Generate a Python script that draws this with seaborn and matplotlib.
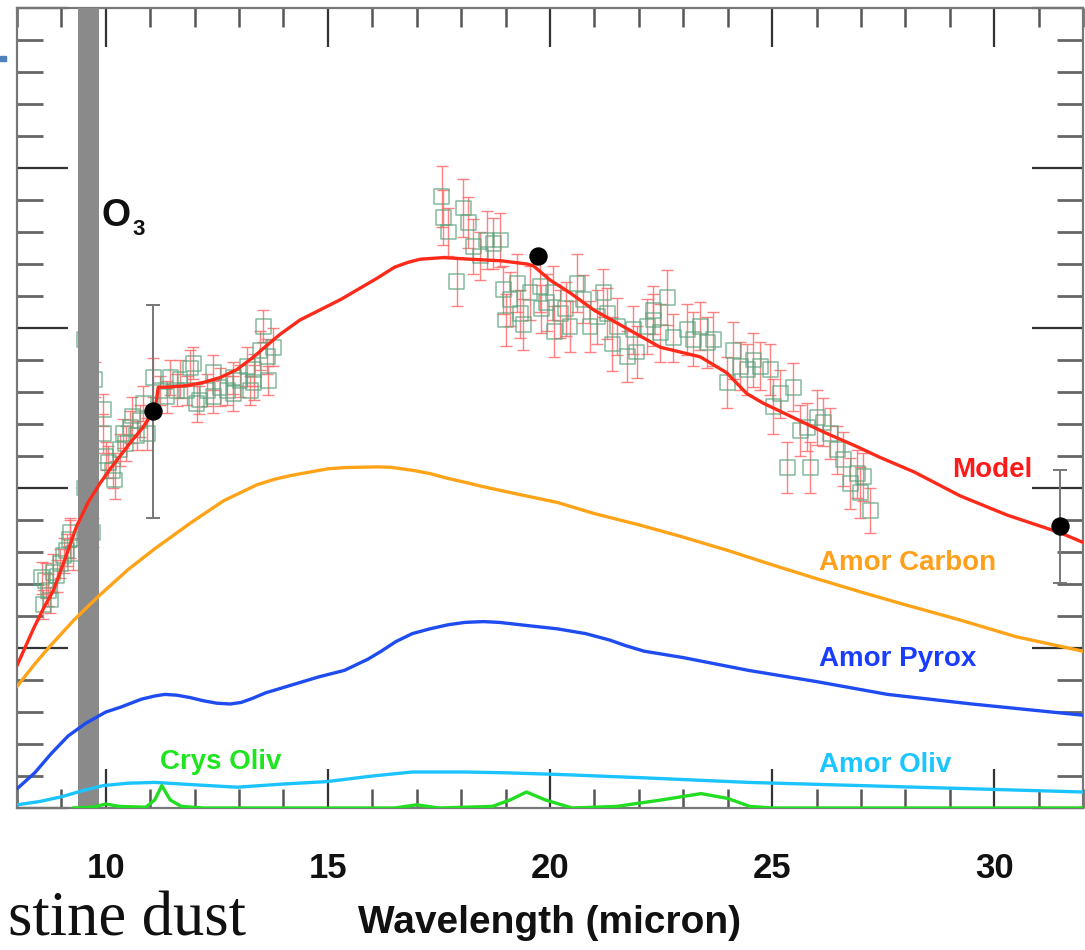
import numpy as np
import pandas as pd
import matplotlib
matplotlib.use("Agg")
import matplotlib.pyplot as plt
import seaborn as sns
from matplotlib.ticker import MultipleLocator
from matplotlib.patches import Rectangle

# ---------------- data ----------------
XTICKS = [10, 15, 20, 25, 30]
XTICK_LABELS = ["10", "15", "20", "25", "30"]
X_LABEL = "Wavelength (micron)"

model_wl = [8.0, 8.37, 8.6, 8.82, 9.1, 9.34, 9.6, 9.87, 10.1, 10.32, 10.6, 10.84, 11.0, 11.11,
            11.18, 11.4, 11.82, 12.2, 12.57, 12.95, 13.33, 13.62, 13.92, 14.37, 14.8, 15.3,
            15.73, 16.1, 16.5, 16.8, 17.08, 17.6, 18.2, 18.9, 19.48, 19.62, 20.0, 20.45, 21.0,
            21.58, 22.03, 22.48, 22.78, 23.38, 23.98, 24.43, 24.8, 25.18, 25.7, 26.24, 26.9,
            27.44, 28.2, 29.24, 30.3, 31.49, 32.0]
model_flux = [0.89, 1.12, 1.25, 1.36, 1.57, 1.76, 1.91, 2.03, 2.12, 2.20, 2.30, 2.38, 2.45, 2.49,
              2.63, 2.63, 2.64, 2.66, 2.69, 2.74, 2.82, 2.89, 2.96, 3.05, 3.11, 3.18,
              3.25, 3.31, 3.38, 3.41, 3.43, 3.44, 3.43, 3.42, 3.40, 3.39, 3.30, 3.22, 3.11,
              3.02, 2.95, 2.88, 2.86, 2.82, 2.72, 2.59, 2.53, 2.48, 2.41, 2.34, 2.26,
              2.19, 2.10, 1.95, 1.83, 1.72, 1.66]

carbon_wl = [8.0, 8.4, 8.77, 9.3, 9.86, 10.5, 11.1, 11.9, 12.65, 13.4, 13.8, 14.2, 14.6, 15.0,
             15.4, 15.75, 16.1, 16.4, 16.92, 17.3, 17.7, 18.1, 18.47, 19.3, 20.16, 21.0, 22.0,
             22.91, 24.0, 25.0, 26.04, 27.0, 28.0, 29.17, 30.5, 32.0]
carbon_flux = [0.76, 0.90, 1.02, 1.18, 1.33, 1.49, 1.62, 1.78, 1.92, 2.02, 2.055, 2.08, 2.10,
               2.12, 2.128, 2.13, 2.132, 2.13, 2.11, 2.09, 2.06, 2.035, 2.01, 1.96, 1.91, 1.84,
               1.77, 1.70, 1.61, 1.52, 1.43, 1.35, 1.27, 1.18, 1.07, 0.98]

pyrox_wl = [8.0, 8.4, 8.77, 9.15, 9.55, 10.0, 10.33, 10.8, 11.1, 11.33, 11.6, 11.9, 12.2, 12.5,
            12.8, 13.05, 13.3, 13.6, 14.2, 14.8, 15.37, 15.9, 16.2, 16.53, 16.9, 17.3, 17.7,
            18.08, 18.5, 18.86, 19.5, 20.16, 20.8, 21.34, 21.7, 22.12, 23.0, 24.47, 26.0, 27.6,
            29.5, 32.0]
pyrox_flux = [0.12, 0.22, 0.34, 0.45, 0.53, 0.60, 0.63, 0.68, 0.70, 0.71, 0.705, 0.69, 0.67,
              0.655, 0.65, 0.66, 0.685, 0.72, 0.77, 0.82, 0.86, 0.93, 0.98, 1.04, 1.09, 1.12,
              1.145, 1.16, 1.165, 1.16, 1.14, 1.12, 1.09, 1.05, 1.015, 0.98, 0.94, 0.86, 0.79,
              0.71, 0.65, 0.58]

aoliv_wl = [8.0, 8.5, 9.0, 9.5, 9.94, 10.5, 11.1, 12.0, 12.96, 14.0, 14.98, 16.0, 16.9, 18.08,
            19.0, 20.16, 22.0, 24.47, 27.0, 29.5, 32.0]
aoliv_flux = [0.02, 0.04, 0.07, 0.11, 0.14, 0.155, 0.16, 0.145, 0.13, 0.15, 0.165, 0.20, 0.225,
              0.225, 0.22, 0.21, 0.19, 0.16, 0.14, 0.12, 0.10]

coliv_wl = [9.25, 9.7, 10.0, 10.3, 10.9, 11.1, 11.26, 11.45, 11.7, 12.2, 16.5, 17.0, 17.5, 18.7,
            19.1, 19.47, 19.9, 20.5, 21.5, 22.5, 23.4, 24.0, 24.5, 25.0, 32.0]
coliv_flux = [0.0, 0.005, 0.025, 0.01, 0.005, 0.05, 0.14, 0.05, 0.01, 0.0, 0.0, 0.02, 0.0, 0.01,
              0.05, 0.10, 0.05, 0.0, 0.01, 0.05, 0.09, 0.06, 0.01, 0.0, 0.0]

# observed spectrum (short wavelength segment)
obs1_wl = [8.56, 8.59, 8.65, 8.70, 8.75, 8.81, 8.90, 8.97, 9.05, 9.12, 9.19, 9.20, 9.26, 9.51,
           9.51, 9.70, 9.75, 9.94, 9.94, 10.00, 10.05, 10.16, 10.20, 10.32, 10.39, 10.45, 10.55,
           10.60, 10.70, 10.77, 10.84, 10.93, 11.07, 11.22, 11.37, 11.45, 11.60, 11.67, 11.82,
           11.90, 11.97, 12.05, 12.10, 12.28, 12.42, 12.42, 12.57, 12.73, 12.87, 12.87, 13.02,
           13.18, 13.25, 13.33, 13.33, 13.47, 13.54, 13.63, 13.66, 13.77]
obs1_flux = [1.44, 1.27, 1.42, 1.36, 1.30, 1.47, 1.45, 1.53, 1.58, 1.61, 1.68, 1.72, 1.59, 2.00,
             2.93, 1.72, 2.68, 2.49, 2.34, 2.20, 2.16, 2.11, 2.05, 2.24, 2.34, 2.28, 2.38,
             2.45, 2.33, 2.42, 2.53, 2.34, 2.69, 2.61, 2.57, 2.69, 2.61, 2.68, 2.61,
             2.75, 2.78, 2.53, 2.55, 2.61, 2.72, 2.57, 2.63, 2.61, 2.69, 2.59, 2.67,
             2.76, 2.61, 2.74, 2.66, 2.86, 3.01, 2.82, 2.67, 2.88]
obs1_err = [0.10, 0.09, 0.11, 0.10, 0.08, 0.12, 0.10, 0.09, 0.11, 0.10, 0.12, 0.09, 0.10, 0.12,
            0.10, 0.09, 0.11, 0.10, 0.12, 0.09, 0.10, 0.11, 0.12, 0.10, 0.09, 0.11, 0.10,
            0.12, 0.09, 0.10, 0.11, 0.10, 0.12, 0.09, 0.10, 0.11, 0.10, 0.12, 0.09,
            0.11, 0.10, 0.12, 0.09, 0.10, 0.11, 0.10, 0.12, 0.09, 0.10, 0.11, 0.10,
            0.12, 0.09, 0.10, 0.11, 0.12, 0.10, 0.11, 0.09, 0.12]

# observed spectrum (long wavelength segment)
obs2_wl = [17.56, 17.60, 17.71, 17.90, 18.05, 18.16, 18.27, 18.43, 18.58, 18.72, 18.88, 18.95,
           19.00, 19.10, 19.26, 19.33, 19.40, 19.55, 19.78, 19.80, 19.93, 20.07, 20.10, 20.23,
           20.35, 20.45, 20.61, 20.75, 20.90, 21.06, 21.20, 21.29, 21.40, 21.51, 21.74, 21.87,
           21.95, 22.19, 22.33, 22.33, 22.48, 22.64, 22.78, 23.09, 23.23, 23.38, 23.54, 23.68,
           23.99, 24.13, 24.28, 24.44, 24.58, 24.73, 24.96, 25.03, 25.18, 25.34, 25.48, 25.63,
           25.79, 25.86, 26.02, 26.15, 26.31, 26.47, 26.60, 26.76, 26.92, 26.99, 27.05, 27.21]
obs2_flux = [3.82, 3.69, 3.60, 3.29, 3.75, 3.66, 3.51, 3.45, 3.55, 3.53, 3.55, 3.24,
             3.05, 3.18, 3.28, 3.09, 3.02, 3.22, 3.26, 3.12, 3.16, 3.22, 2.98, 3.09,
             3.12, 3.01, 3.28, 3.18, 3.01, 3.07, 3.22, 3.09, 2.90, 3.01, 2.82, 2.99,
             2.85, 3.01, 3.11, 3.05, 2.97, 3.19, 2.94, 2.99, 2.93, 3.01, 2.91, 2.93,
             2.66, 2.86, 2.76, 2.74, 2.80, 2.76, 2.74, 2.51, 2.59, 2.13, 2.63, 2.36,
             2.38, 2.13, 2.44, 2.41, 2.34, 2.24, 2.18, 2.03, 2.09, 1.97, 2.07, 1.86]
obs2_err = [0.19, 0.17, 0.15, 0.15, 0.18, 0.16, 0.17, 0.15, 0.18, 0.16, 0.17, 0.15,
            0.16, 0.17, 0.18, 0.15, 0.16, 0.17, 0.16, 0.15, 0.18, 0.17, 0.16, 0.15,
            0.17, 0.16, 0.18, 0.15, 0.16, 0.17, 0.15, 0.16, 0.17, 0.18, 0.16, 0.15,
            0.16, 0.17, 0.15, 0.16, 0.18, 0.17, 0.15, 0.16, 0.17, 0.15, 0.16, 0.17,
            0.16, 0.18, 0.15, 0.16, 0.17, 0.15, 0.16, 0.17, 0.15, 0.16, 0.15, 0.16,
            0.15, 0.16, 0.17, 0.15, 0.16, 0.15, 0.17, 0.16, 0.15, 0.16, 0.15, 0.14]

# photometric points
phot_wl = [11.06, 19.73, 31.49]
phot_flux = [2.48, 3.45, 1.76]
phot_err = [0.665, 0.0, 0.355]

O3_BAND = [9.374, 9.847]

curve_labels = ["Model", "Amor Carbon", "Amor Pyrox", "Amor Oliv", "Crys Oliv"]

# ---------------- style ----------------
sns.set_style("ticks")
plt.rcParams["font.family"] = ["Liberation Sans", "DejaVu Sans"]

C_MODEL = "#ff2a1a"
C_CARBON = "#ffa319"
C_PYROX = "#1f4cf0"
C_AOLIV = "#1cc4ff"
C_COLIV = "#22dd22"

fig = plt.figure(figsize=(10.85, 9.5), dpi=100)
ax = fig.add_axes([17 / 1085, 142 / 950, (1083 - 17) / 1085, (808 - 8) / 950])

obs = pd.DataFrame({"wl": obs1_wl + obs2_wl,
                    "flux": obs1_flux + obs2_flux,
                    "err": obs1_err + obs2_err})

# error bars of the spectrum
ax.errorbar(obs["wl"], obs["flux"], yerr=obs["err"], fmt="none", ecolor="#ff6b6b",
            elinewidth=1.0, capsize=4.5, capthick=1.0, alpha=0.85, zorder=2)
sns.scatterplot(data=obs, x="wl", y="flux", marker="s", s=115, facecolor="none",
                edgecolor="#5aa37c", linewidth=1.1, alpha=0.75, ax=ax, zorder=2.5,
                legend=False)

# O3 band
ax.axvspan(O3_BAND[0], O3_BAND[1], color="#8a8a8a", lw=0, zorder=3)

# model curves
for wl, fl, col in [(model_wl, model_flux, C_MODEL), (carbon_wl, carbon_flux, C_CARBON),
                    (pyrox_wl, pyrox_flux, C_PYROX), (aoliv_wl, aoliv_flux, C_AOLIV),
                    (coliv_wl, coliv_flux, C_COLIV)]:
    sns.lineplot(x=wl, y=fl, color=col, linewidth=2.4, ax=ax, zorder=4, legend=False)

# photometric points
phot = pd.DataFrame({"wl": phot_wl, "flux": phot_flux, "err": phot_err})
ax.errorbar(phot["wl"], phot["flux"], yerr=phot["err"], fmt="none", ecolor="#777777",
            elinewidth=1.4, capsize=5, capthick=1.4, zorder=5)
sns.scatterplot(data=phot, x="wl", y="flux", color="black", s=150, edgecolor="black",
                ax=ax, zorder=6, legend=False)

# labels
ax.text(29.06, 2.11, curve_labels[0], color="#ff1a1a", fontsize=20, fontweight="bold",
        ha="left", va="center")
ax.text(26.06, 1.53, curve_labels[1], color="#ff9f1a", fontsize=20, fontweight="bold",
        ha="left", va="center")
ax.text(26.06, 0.93, curve_labels[2], color="#1a3cff", fontsize=20, fontweight="bold",
        ha="left", va="center")
ax.text(26.06, 0.27, curve_labels[3], color="#1ac6ff", fontsize=20, fontweight="bold",
        ha="left", va="center")
ax.text(11.22, 0.29, curve_labels[4], color="#1ee61e", fontsize=20, fontweight="bold",
        ha="left", va="center")
# O3 label: "O" with subscript "3"
ax.text(9.90, 3.70, "O", color="#111111", fontsize=27, fontweight="bold",
        ha="left", va="center")
ax.annotate("3", xy=(9.90, 3.70), xytext=(22, -10), textcoords="offset points",
            color="#111111", fontsize=16, fontweight="bold", ha="left", va="center")

# axes
ax.set_xlim(8, 32)
ax.set_ylim(0, 5)
ax.set_xticks(XTICKS)
ax.set_xticklabels(XTICK_LABELS, fontweight="bold", fontsize=25, color="#111111")
ax.xaxis.set_minor_locator(MultipleLocator(1))
ax.yaxis.set_major_locator(MultipleLocator(1))
ax.yaxis.set_minor_locator(MultipleLocator(0.2))
ax.tick_params(which="both", direction="in", top=True, right=True, bottom=True, left=True)
ax.tick_params(axis="x", which="major", length=28, width=1.6, color="#333333", pad=32)
ax.tick_params(axis="x", which="minor", length=13.5, width=1.8, color="#555555")
ax.tick_params(axis="y", which="major", length=37, width=1.6, color="#333333",
               labelleft=False, labelright=False)
ax.tick_params(axis="y", which="minor", length=18.5, width=2.0, color="#666666")
for sp in ax.spines.values():
    sp.set_color("#777777")
    sp.set_linewidth(1.6)
ax.set_xlabel(X_LABEL, fontsize=28, fontweight="bold", color="#111111", labelpad=14)
ax.set_ylabel("")

# slide fragments around the figure
fig.text(246 / 1085, 1 / 950, "stine dust", family="Liberation Serif", fontsize=45,
         ha="right", va="bottom", color="#111111")
fig.patches.append(Rectangle((0, 1 - 61 / 950), 6 / 1085, 5 / 950, transform=fig.transFigure,
                             color="#4f81bd"))

fig.savefig("out.png", dpi=100)
